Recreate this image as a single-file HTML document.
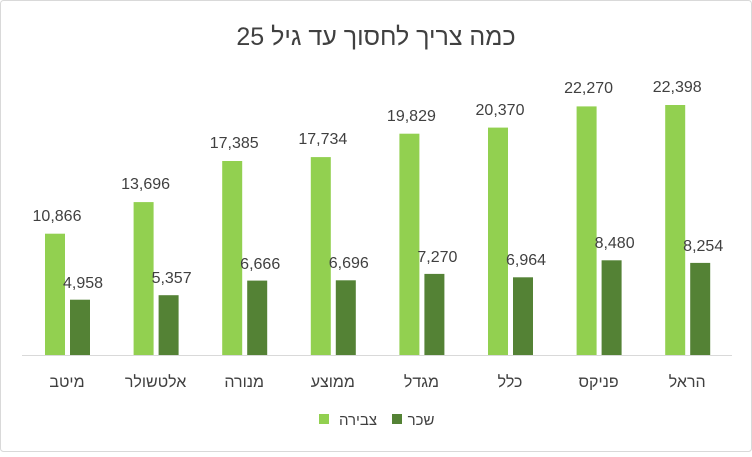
<!DOCTYPE html>
<html><head><meta charset="utf-8"><style>
html,body{margin:0;padding:0;background:#fff;}
</style></head><body>
<svg width="752" height="452" xmlns="http://www.w3.org/2000/svg" font-family="Liberation Sans, DejaVu Sans, sans-serif">
<rect x="0.5" y="0.5" width="751" height="451" rx="3" fill="#fff" stroke="#d9d9d9"/>
<text x="376" y="45" text-anchor="middle" font-size="25" fill="#404040">כמה צריך לחסוך עד גיל 25</text>
<line x1="22" y1="355.5" x2="732" y2="355.5" stroke="#d9d9d9"/>
<g fill="#92D050">
<rect x="45" y="233.7" width="20" height="121.3"/>
<rect x="133.6" y="202.1" width="20" height="152.9"/>
<rect x="222.2" y="161" width="20" height="194"/>
<rect x="310.8" y="157.1" width="20" height="197.9"/>
<rect x="399.4" y="133.7" width="20" height="221.3"/>
<rect x="488" y="127.6" width="20" height="227.4"/>
<rect x="576.6" y="106.4" width="20" height="248.6"/>
<rect x="665.2" y="105" width="20" height="250"/>
</g>
<g fill="#548235">
<rect x="70" y="299.7" width="20" height="55.3"/>
<rect x="158.6" y="295.2" width="20" height="59.8"/>
<rect x="247.2" y="280.6" width="20" height="74.4"/>
<rect x="335.8" y="280.3" width="20" height="74.7"/>
<rect x="424.4" y="273.9" width="20" height="81.1"/>
<rect x="513" y="277.3" width="20" height="77.7"/>
<rect x="601.6" y="260.3" width="20" height="94.7"/>
<rect x="690.2" y="262.9" width="20" height="92.1"/>
</g>
<g font-size="16" fill="#404040" text-anchor="middle">
<text x="57" y="221">10,866</text>
<text x="145.6" y="189">13,696</text>
<text x="234.2" y="148">17,385</text>
<text x="322.8" y="144">17,734</text>
<text x="411.4" y="121">19,829</text>
<text x="500" y="115">20,370</text>
<text x="588.6" y="93">22,270</text>
<text x="677.2" y="92">22,398</text>
<text x="83" y="288">4,958</text>
<text x="171.6" y="283">5,357</text>
<text x="260.2" y="269">6,666</text>
<text x="348.8" y="268">6,696</text>
<text x="437.4" y="262">7,270</text>
<text x="526" y="265">6,964</text>
<text x="614.6" y="248">8,480</text>
<text x="703.2" y="251">8,254</text>
<text x="67" y="387">מיטב</text>
<text x="155.6" y="387">אלטשולר</text>
<text x="244.2" y="387">מנורה</text>
<text x="332.8" y="387">ממוצע</text>
<text x="421.4" y="387">מגדל</text>
<text x="510" y="387">כלל</text>
<text x="598.6" y="387">פניקס</text>
<text x="687.2" y="387">הראל</text>
</g>
<rect x="319" y="414" width="10" height="10" fill="#92D050"/>
<text x="358" y="425" font-size="15" fill="#404040" text-anchor="middle">צבירה</text>
<rect x="392" y="414" width="10" height="10" fill="#548235"/>
<text x="421" y="425" font-size="15" fill="#404040" text-anchor="middle">שכר</text>
</svg>
</body></html>
